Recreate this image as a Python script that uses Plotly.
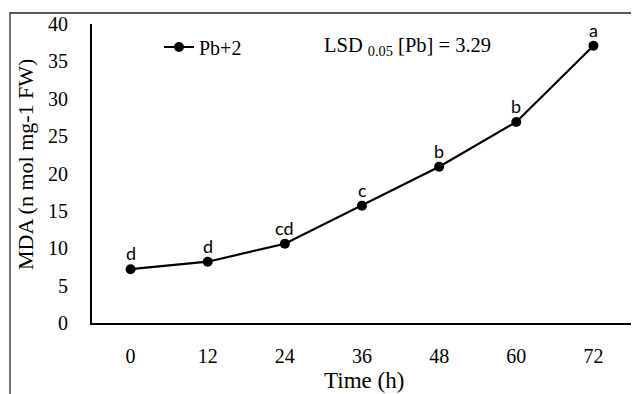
import plotly.graph_objects as go

time_labels = ["0", "12", "24", "36", "48", "60", "72"]
mda_values = [7.2, 8.2, 10.6, 15.7, 20.9, 26.9, 37.1]
letters = ["d", "d", "cd", "c", "b", "b", "a"]
series_name = "Pb+2"
lsd_text = "LSD <sub>0.05</sub> [Pb] = 3.29"
x_title = "Time (h)"
y_title = "MDA (n mol mg-1 FW)"

SERIF = "Liberation Serif, Times New Roman, serif"
OFF = 8  # page body margin
L, R, T, B = 92, 632, 24, 323  # plot area in screen pixels
W, H = R - L, B - T
FW, FH = 639 - OFF, 394 - OFF


def px(x):
    return (x - L) / W


def py(y):
    return (B - y) / H


fig = go.Figure()
fig.add_trace(go.Scatter(
    x=time_labels, y=mda_values, mode="lines+markers", name=series_name,
    line=dict(color="black", width=2.2),
    marker=dict(color="black", size=10),
))

for i, (yv, lt) in enumerate(zip(mda_values, letters)):
    fig.add_annotation(x=i, y=yv, text=lt, showarrow=False, yshift=16,
                       font=dict(family="Lato, Open Sans, sans-serif", size=18, color="black"))

fig.add_annotation(xref="paper", yref="paper", x=px(322), y=py(47),
                   xanchor="left", yanchor="middle", text=lsd_text, showarrow=False,
                   font=dict(family=SERIF, size=20.5, color="black"))

fig.add_annotation(xref="paper", yref="paper", x=px(25), y=py(165),
                   xanchor="center", yanchor="middle", text=y_title, textangle=-90,
                   showarrow=False, font=dict(family=SERIF, size=22, color="black"))

fig.add_annotation(xref="paper", yref="paper", x=px(364), y=py(380),
                   xanchor="center", yanchor="middle", text=x_title,
                   showarrow=False, font=dict(family=SERIF, size=23, color="black"))

# outer frame (partial, as in reference)
fig.add_shape(type="line", xref="paper", yref="paper",
              x0=px(10), x1=px(645), y0=py(13), y1=py(13),
              line=dict(color="#5a5a5a", width=2))
fig.add_shape(type="line", xref="paper", yref="paper",
              x0=px(10), x1=px(10), y0=py(12), y1=py(400),
              line=dict(color="#444444", width=1.5))

fig.update_layout(
    width=FW, height=FH,
    margin=dict(l=L - OFF, r=639 - R, t=T - OFF, b=394 - B, autoexpand=False),
    paper_bgcolor="white", plot_bgcolor="white",
    showlegend=True,
    legend=dict(x=px(159), y=py(47), xanchor="left", yanchor="middle",
                bgcolor="rgba(0,0,0,0)", font=dict(family=SERIF, size=20, color="black")),
    xaxis=dict(type="category", range=[-0.5, 6.5], showline=True, linecolor="black", linewidth=2,
               showgrid=False, ticks="", ticklabelstandoff=14, automargin=False,
               tickfont=dict(family=SERIF, size=20, color="black")),
    yaxis=dict(range=[0, 40], dtick=5, showline=True, linecolor="black", linewidth=2,
               showgrid=False, zeroline=False, ticks="", ticklabelstandoff=18, automargin=False,
               tickfont=dict(family=SERIF, size=20, color="black")),
)

fig.write_html("out.html")
